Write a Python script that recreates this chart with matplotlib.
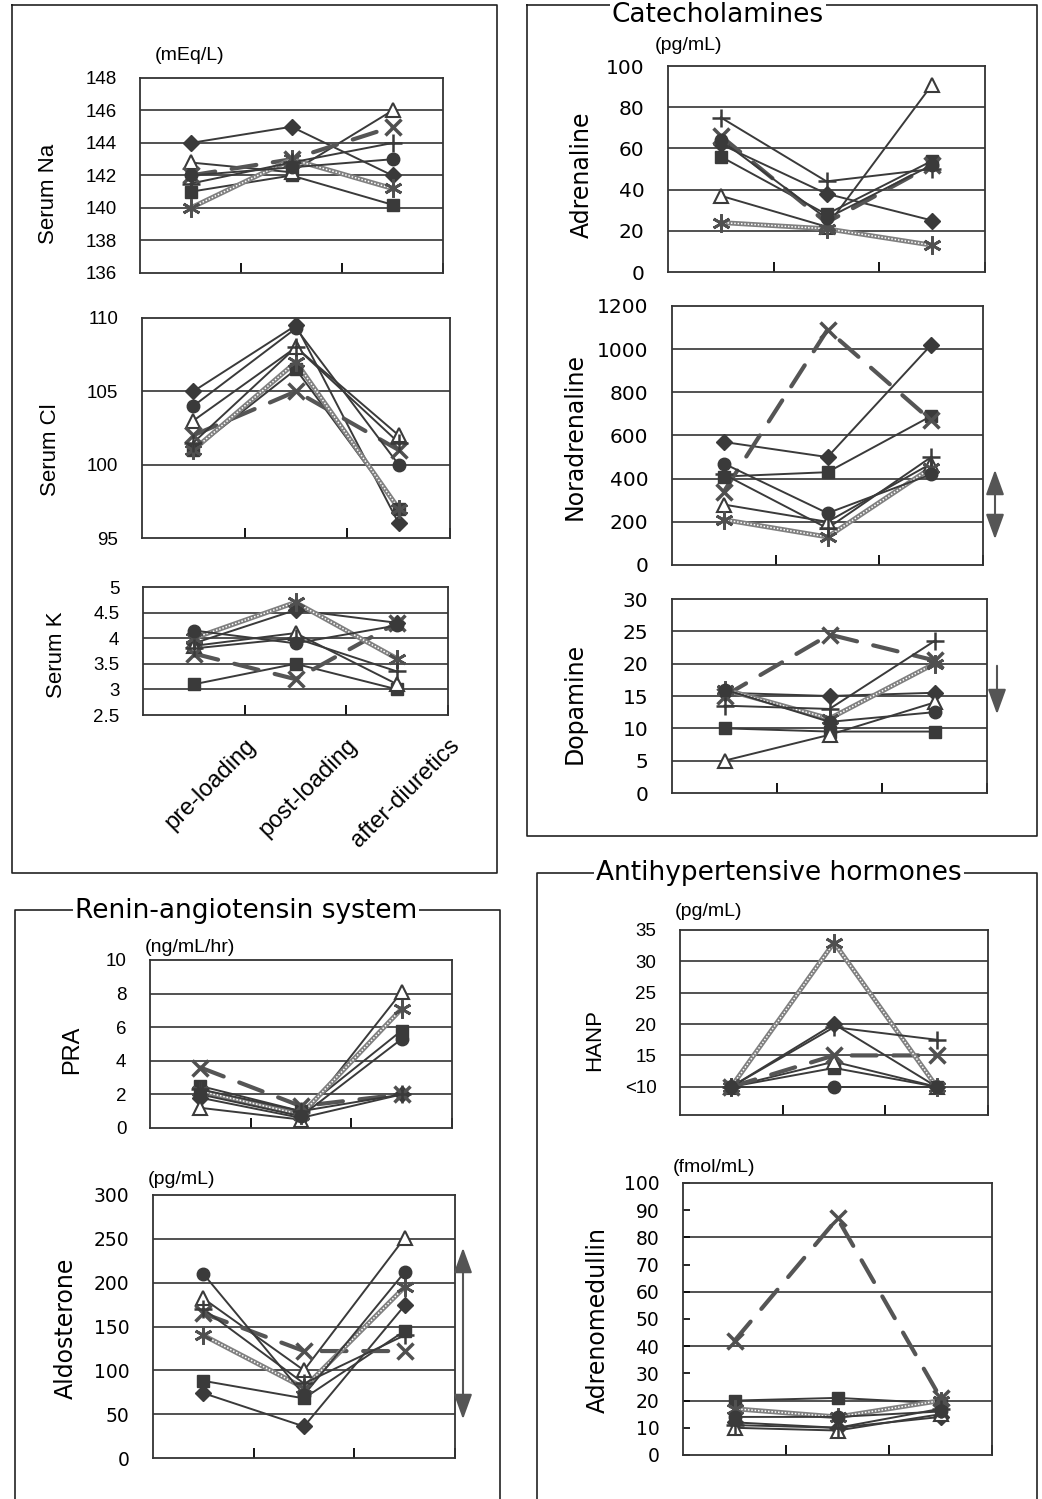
import numpy as np
import matplotlib.pyplot as plt
import matplotlib.transforms as mtransforms
from matplotlib.lines import Line2D
from matplotlib.patches import FancyArrowPatch

plt.rcParams['font.family'] = ['Liberation Sans', 'DejaVu Sans']

W, H = 1042, 1499
stages = ['pre-loading', 'post-loading', 'after-diuretics']

# rows = patients: diamond, square, triangle, x (dashed), asterisk (dotted), circle, plus
serum_na = [[144, 145, 142], [141, 142, 140.2], [142.8, 142.2, 146], [142, 143, 145],
            [140, 143, 141.2], [142, 142.5, 143], [141.5, 142.8, 144]]
serum_cl = [[105, 109.5, 96], [101, 106.5, 97], [103, 108, 102], [102, 105, 101],
            [101, 107, 97], [104, 109.3, 100], [101.5, 108, 101.5]]
serum_k = [[3.9, 4.55, 4.3], [3.1, 3.5, 3.0], [3.85, 4.1, 3.1], [3.7, 3.2, 4.3],
           [4.0, 4.7, 3.6], [4.15, 3.9, 4.25], [3.8, 4.0, 3.35]]
adrenaline = [[62, 38, 25], [56, 28, 54], [37, 22, 91], [66, 24, 52],
              [24, 21, 13], [64, 26, 52], [75, 44, 50]]
noradrenaline = [[570, 500, 1020], [410, 430, 690], [280, 200, 470], [340, 1090, 670],
                 [210, 130, 450], [470, 240, 420], [420, 170, 500]]
dopamine = [[15.5, 15, 15.5], [10, 9.5, 9.5], [5, 9, 14], [15, 24.5, 20.5],
            [16, 11.5, 20], [16, 11, 12.5], [13.5, 13, 23.5]]
pra = [[1.8, 0.6, 2.0], [2.5, 1.0, 5.8], [1.2, 0.5, 8.1], [3.6, 1.3, 2.0],
       [2.2, 0.8, 7.1], [2.0, 0.7, 5.3], [2.3, 1.0, 2.0]]
aldosterone = [[74, 36, 174], [88, 68, 145], [182, 100, 251], [165, 122, 122],
               [140, 80, 195], [210, 72, 212], [170, 85, 140]]
hanp = [[10, 20, 10], [10, 13, 10], [10, 14, 10], [10, 15, 15],
        [10, 33, 10], [10, 10, 10], [10, 19.5, 17.5]]
adrenomedullin = [[12, 10, 14], [20, 21, 19], [10, 9, 15], [42, 87, 21],
                  [17, 14, 20], [14, 14, 16], [11, 10, 17]]

DARK = '#3a3a3a'
markers = [
    dict(marker='D', ms=8, mfc=DARK, mec=DARK),
    dict(marker='s', ms=8, mfc=DARK, mec=DARK),
    dict(marker='^', ms=10, mfc='white', mec=DARK, mew=1.5),
    dict(marker='x', ms=11, mec='#505050', mew=2.5),
    dict(marker=(6, 2, 0), ms=13, mec='#505050', mew=2),
    dict(marker='o', ms=9, mfc=DARK, mec=DARK),
    dict(marker='+', ms=13, mec=DARK, mew=1.8),
]

fig = plt.figure(figsize=(W / 100, H / 100), dpi=100)
# pixel coordinates, origin top-left
T = mtransforms.Affine2D().scale(1 / W, -1 / H).translate(0, 1) + fig.transFigure


def panel(box, data, ylim, ticks, grid, ylabel, lab_xy, ticklabels=None, fs=13.5, lfs=16,
          wide=False, xlabels=False, minor_in=False):
    l, t, r, b = box
    ax = fig.add_axes([l / W, 1 - b / H, (r - l) / W, (b - t) / H])
    x = np.arange(1, 4)
    for g in grid:
        ax.axhline(g, color='#333', lw=1.2, zorder=1)
    for i, vals in enumerate(data):
        if i == 3:
            ax.plot(x, vals, color='#555', lw=3, dashes=(6, 4), dash_capstyle='round', zorder=2)
        elif i == 4:
            ax.plot(x, vals, color='#808080', lw=3.5, zorder=2)
            ax.plot(x, vals, color='white', lw=1.1, dashes=(1, 1.2), zorder=2)
        else:
            ax.plot(x, vals, color=DARK, lw=1.4, zorder=2)
        ax.plot(x, vals, ls='none', zorder=3, **markers[i])
    ax.set_xlim(0.5, 3.5)
    ax.set_ylim(*ylim)
    ax.set_yticks(ticks)
    if ticklabels is not None:
        ax.set_yticklabels(ticklabels)
    ax.set_xticks([1.5, 2.5, 3.5])
    if xlabels:
        ax.set_xticklabels(stages, rotation=45, ha='right', rotation_mode='anchor', fontsize=17)
    ax.tick_params(axis='x', direction='in', length=7, width=1.3, labelbottom=xlabels, pad=14)
    if minor_in:
        ax.tick_params(axis='y', direction='in', length=5, width=1.2, pad=17, labelsize=fs)
    else:
        ax.tick_params(axis='y', length=0, pad=17, labelsize=fs)
    fam = ['DejaVu Sans'] if wide else ['Liberation Sans', 'DejaVu Sans']
    for lab in ax.get_yticklabels():
        lab.set_family(fam)
    for s in ax.spines.values():
        s.set_linewidth(1.3)
        s.set_color('#333')
    fig.text(lab_xy[0], lab_xy[1], ylabel, transform=T, rotation=90, ha='center', va='center',
             fontsize=lfs, family=fam)
    return ax


# Electrolytes
panel((140, 78, 443, 273), serum_na, (136, 148), range(136, 149, 2), range(138, 147, 2),
      'Serum Na', (48, 194))
panel((142, 318, 450, 538), serum_cl, (95, 110), [95, 100, 105, 110], [100, 105],
      'Serum Cl', (50, 450))
panel((143, 587, 448, 715), serum_k, (2.5, 5), [2.5, 3, 3.5, 4, 4.5, 5], [3, 3.5, 4, 4.5],
      'Serum K', (57, 655), ticklabels=['2.5', '3', '3.5', '4', '4.5', '5'], xlabels=True)

# Catecholamines
panel((668, 66, 985, 272), adrenaline, (0, 100), range(0, 101, 20), range(20, 81, 20),
      'Adrenaline', (582, 175), fs=14.5, lfs=17, wide=True)
panel((672, 306, 983, 565), noradrenaline, (0, 1200), range(0, 1201, 200), range(200, 1001, 200),
      'Noradrenaline', (575, 437), fs=14.5, lfs=17, wide=True)
panel((672, 599, 987, 793), dopamine, (0, 30), range(0, 31, 5), range(5, 26, 5),
      'Dopamine', (575, 703), fs=14.5, lfs=17, wide=True)

# Renin-angiotensin
panel((150, 960, 452, 1128), pra, (0, 10), range(0, 11, 2), range(2, 9, 2),
      'PRA', (72, 1050), lfs=17)
panel((153, 1195, 455, 1458), aldosterone, (0, 300), range(0, 301, 50), range(50, 251, 50),
      'Aldosterone', (66, 1328), fs=13.5, lfs=17, wide=True)

# Antihypertensive hormones
panel((680, 930, 988, 1115), hanp, (5.5, 35), range(10, 36, 5), range(10, 31, 5),
      'HANP', (595, 1040), ticklabels=['<10', '15', '20', '25', '30', '35'], lfs=16)
panel((683, 1183, 992, 1455), adrenomedullin, (0, 100), range(0, 101, 10), range(20, 81, 20),
      'Adrenomedullin', (598, 1320), fs=13.5, lfs=17, wide=True, minor_in=True)

# units
for ux, uy, u in [(155, 55, '(mEq/L)'), (655, 45, '(pg/mL)'), (145, 948, '(ng/mL/hr)'),
                  (148, 1180, '(pg/mL)'), (675, 912, '(pg/mL)'), (673, 1168, '(fmol/mL)')]:
    fig.text(ux, uy, u, transform=T, ha='left', va='center', fontsize=14)


# frames
def frame(xs, ys):
    fig.add_artist(Line2D(xs, ys, transform=T, color='#222', lw=1.2))


frame([12, 497, 497, 12, 12], [5, 5, 873, 873, 5])
frame([527, 1037, 1037, 527, 527], [5, 5, 836, 836, 5])
frame([15, 15, 500, 500], [1505, 910, 910, 1505])
frame([537, 537, 1037, 1037], [1505, 873, 873, 1505])

for tx, ty, s in [(718, 15, 'Catecholamines'), (246, 911, 'Renin-angiotensin system'),
                  (779, 873, 'Antihypertensive hormones')]:
    fig.text(tx, ty, s, transform=T, ha='center', va='center', fontsize=19,
             family=['DejaVu Sans'], bbox=dict(fc='white', ec='none', pad=1.5))

# arrows
for (x0, y0, x1, y1, st) in [(995, 467, 995, 542, '<|-|>'), (997, 663, 997, 717, '-|>'),
                             (463, 1245, 463, 1422, '<|-|>')]:
    fig.add_artist(FancyArrowPatch((x0, y0), (x1, y1), transform=T,
                                   arrowstyle=st + ',head_length=1.1,head_width=0.4',
                                   mutation_scale=14, color='#555', lw=1.5))

fig.savefig('out.png', dpi=100)
